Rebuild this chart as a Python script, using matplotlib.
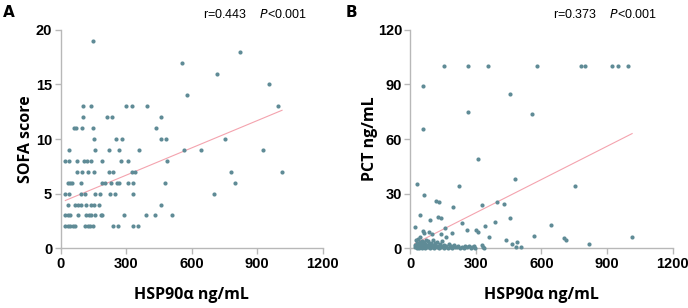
import matplotlib
matplotlib.use("Agg")
import matplotlib.pyplot as plt
import numpy as np

# Panel A: SOFA score vs HSP90a
sofa_x = [147, 820, 558, 714, 953, 579,
          104, 138, 299, 327, 398, 995,
          101, 212, 237, 462,
          60, 69, 96, 147, 439,
          154, 256, 281, 458, 485, 752,
          38, 160, 221, 266, 360, 567, 643, 925,
          22, 37, 75, 108, 122, 139, 191, 279, 307, 488,
          75, 99, 125, 154, 224, 240, 328, 343, 782, 1014,
          32, 41, 51, 92, 192, 203, 232, 258, 268, 307, 332, 477, 800,
          22, 40, 93, 112, 159, 180, 227, 249, 331, 703,
          32, 66, 78, 93, 116, 139, 154, 177, 458,
          22, 32, 43, 80, 116, 128, 140, 157, 185, 192, 290, 391, 433, 508,
          22, 32, 43, 55, 66, 112, 125, 137, 148, 240, 264, 331, 353]
sofa_y = [19, 18, 17, 16, 15, 14,
          13, 13, 13, 13, 13, 13,
          12, 12, 12, 12,
          11, 11, 11, 11, 11,
          10, 10, 10, 10, 10, 10,
          9, 9, 9, 9, 9, 9, 9, 9,
          8, 8, 8, 8, 8, 8, 8, 8, 8, 8,
          7, 7, 7, 7, 7, 7, 7, 7, 7, 7,
          6, 6, 6, 6, 6, 6, 6, 6, 6, 6, 6, 6, 6,
          5, 5, 5, 5, 5, 5, 5, 5, 5, 5,
          4, 4, 4, 4, 4, 4, 4, 4, 4,
          3, 3, 3, 3, 3, 3, 3, 3, 3, 3, 3, 3, 3, 3,
          2, 2, 2, 2, 2, 2, 2, 2, 2, 2, 2, 2, 2]

# Panel B: PCT vs HSP90a
pct_x = [154, 265, 355, 580, 779, 801, 925, 951, 994,
         58, 458, 266, 559, 58, 308, 478, 30, 224, 753, 64, 116, 129,
         326, 397, 429, 193, 44, 125, 141, 458, 88, 387, 236, 644, 21,
         160, 341, 59, 64, 86, 97, 139, 190, 259, 300, 308, 359, 566,
         1015, 702, 711, 438, 466, 489, 819, 483, 507, 44, 161,
         20, 22, 24, 26, 28, 30, 32, 34, 36, 38,
         40, 42, 45, 48, 50, 52, 55, 58, 60, 62,
         65, 68, 70, 72, 75, 78, 80, 83, 86, 90,
         93, 96, 100, 104, 108, 110, 114, 118, 120, 124,
         128, 132, 136, 140, 144, 148, 152, 156, 160, 165,
         170, 175, 180, 186, 192, 198, 205, 212, 220, 228,
         236, 244, 252, 260, 268, 276, 284, 290, 296, 330,
         334, 338]
pct_y = [100, 100, 100, 100, 100, 100, 100, 100, 100,
         89, 85, 75, 74, 65.4, 49, 38.3, 35.5, 34.4, 34, 29, 26, 25.5,
         23.6, 25.3, 24.5, 22.7, 18.3, 17.4, 16.7, 16.8, 15.6, 14.6, 13.7, 12.8, 11.9,
         11.4, 12.3, 9.3, 8.3, 9, 7.9, 7.9, 8.6, 9.9, 9.9, 8.8, 6, 6.9,
         6.2, 5.5, 4.4, 4.6, 2.4, 3.6, 2.5, 0.9, 0.5, 6, 6,
         0.5, 2.0, 4.5, 1.0, 3.0, 0.3, 1.5, 5.0, 0.8, 2.5,
         0.2, 3.5, 1.2, 0.6, 2.2, 4.0, 0.4, 1.8, 0.9, 3.2,
         0.3, 2.6, 1.1, 4.4, 0.5, 1.6, 3.8, 0.7, 2.1, 0.2,
         1.4, 3.0, 0.6, 4.8, 1.9, 0.3, 2.7, 1.0, 0.5, 3.4,
         1.3, 0.4, 2.3, 0.8, 4.1, 1.5, 0.3, 2.0, 0.9, 1.2,
         0.4, 2.5, 0.7, 1.1, 0.3, 1.6, 0.5, 0.9, 1.3, 0.4,
         0.8, 0.2, 1.5, 0.6, 1.0, 0.3, 0.7, 1.2, 0.4, 1.8,
         0.6, 0.2]

# fitted lines (intercept, slope)
fit_a = (4.19, 0.00833)
fit_b = (1.3, 0.0608)

x_ticks = [0, 300, 600, 900, 1200]
sofa_ticks = [0, 5, 10, 15, 20]
pct_ticks = [0, 30, 60, 90, 120]

dot = "#5f8b96"
pink = "#f4a3ae"
spine = "#b8b8b8"
tick_font = ["Liberation Sans Narrow", "Liberation Sans"]
label_font = ["Open Sans", "DejaVu Sans"]

fig = plt.figure(figsize=(6.88, 3.08), dpi=100)
ax_a = fig.add_axes([0.088, 0.194, 0.381, 0.709])
ax_b = fig.add_axes([0.5965, 0.194, 0.381, 0.709])

def panel(ax, xs, ys, fit, yticks, ylabel, stat, ylab_x):
    ax.scatter(xs, ys, s=9, color=dot, linewidths=0, clip_on=False, zorder=3)
    lx = np.array([min(xs), max(xs)])
    ax.plot(lx, fit[0] + fit[1] * lx, color=pink, lw=0.8, zorder=2)
    ax.set_xlim(0, 1200)
    ax.set_ylim(yticks[0], yticks[-1])
    ax.set_xticks(x_ticks)
    ax.set_yticks(yticks)
    for s in ["top", "right"]:
        ax.spines[s].set_visible(False)
    for s in ["left", "bottom"]:
        ax.spines[s].set_color(spine)
        ax.spines[s].set_linewidth(1.0)
    ax.tick_params(direction="out", length=4, width=1, color=spine, pad=2)
    for lab in ax.get_xticklabels() + ax.get_yticklabels():
        lab.set_fontfamily(tick_font)
        lab.set_fontweight("bold")
        lab.set_fontsize(10.5)
    ax.set_xlabel("HSP90α ng/mL", fontsize=11.5, fontweight="bold",
                  family=label_font, va="center")
    ax.xaxis.set_label_coords(0.5, -0.214)
    ax.set_ylabel(ylabel, fontsize=11.5, fontweight="bold",
                  family=label_font, va="center")
    ax.yaxis.set_label_coords(ylab_x, 0.5)
    ax.text(0.545, 1.07, stat, transform=ax.transAxes, fontsize=9,
            family="Liberation Sans", ha="left", va="center")

panel(ax_a, sofa_x, sofa_y, fit_a, sofa_ticks, "SOFA score",
      r"r=0.443    $\it{P}$<0.001", -0.132)
panel(ax_b, pct_x, pct_y, fit_b, pct_ticks, "PCT ng/mL",
      r"r=0.373    $\it{P}$<0.001", -0.154)

fig.text(0.004, 0.96, "A", fontsize=11, fontweight="bold", va="center")
fig.text(0.503, 0.96, "B", fontsize=11, fontweight="bold", va="center")

fig.savefig("out.png", dpi=100)
